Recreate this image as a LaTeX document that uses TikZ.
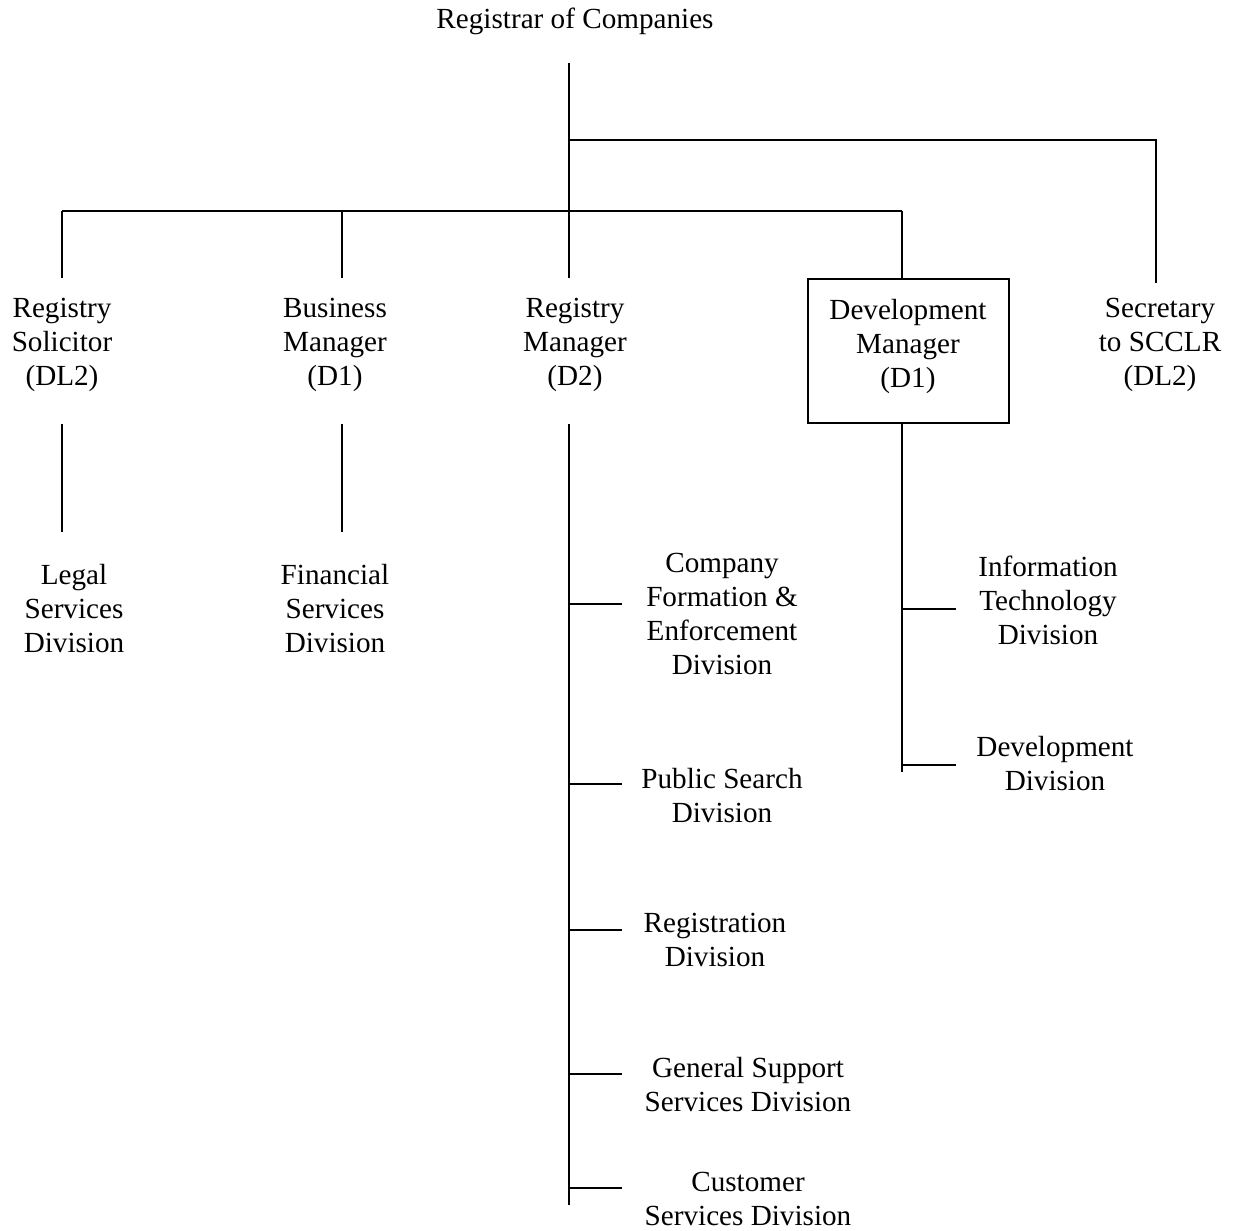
\documentclass[tikz,border=0pt]{standalone}
\usepackage{fontspec}
\setmainfont{Liberation Serif}
\begin{document}
\begin{tikzpicture}[x=0.6pt,y=-0.6pt,
  txt/.style={align=center,inner sep=0pt,font=\fontsize{17.5pt}{20.4pt}\selectfont},
  ln/.style={line width=0.9pt,black},
  boxed/.style={draw,line width=0.9pt,minimum width=120.6pt,minimum height=86.4pt,inner sep=0pt}]
\useasboundingbox (0,0) rectangle (1234,1230);
% nodes
\node[txt] (reg) at (575,21) {Registrar of Companies};
\node[txt] (rs) at (62,345) {Registry\\Solicitor\\(DL2)};
\node[txt] (bm) at (335,345) {Business\\Manager\\(D1)};
\node[txt] (rm) at (575,345) {Registry\\Manager\\(D2)};
\node[boxed] (dmbox) at (908.5,351) {};
\node[txt] (dm) at (908,346) {Development\\Manager\\(D1)};
\node[txt] (sec) at (1160,345) {Secretary\\to SCCLR\\(DL2)};
\node[txt] (legal) at (74,609) {Legal\\Services\\Division};
\node[txt] (fin) at (335,609) {Financial\\Services\\Division};
\node[txt] (cfe) at (722,614) {Company\\Formation \&\\Enforcement\\Division};
\node[txt] (ps) at (722,796) {Public Search\\Division};
\node[txt] (regd) at (715,940) {Registration\\Division};
\node[txt] (gss) at (748,1085) {General Support\\Services Division};
\node[txt] (cs) at (748,1199) {Customer\\Services Division};
\node[txt] (it) at (1048,600) {Information\\Technology\\Division};
\node[txt] (dd) at (1055,764) {Development\\Division};
% coordinates
\coordinate (top) at (569,63);
\coordinate (j1) at (569,140);
\coordinate (j2) at (569,211);
\coordinate (rmT) at (569,278);
\coordinate (secC) at (1156,140);
\coordinate (secT) at (1156,283);
\coordinate (hl) at (62,211);
\coordinate (hr) at (902,211);
\coordinate (rsT) at (62,278);
\coordinate (bmJ) at (342,211);
\coordinate (bmT) at (342,278);
\coordinate (dmT) at (902,279);
\coordinate (rsB) at (62,424);
\coordinate (legT) at (62,532);
\coordinate (bmB) at (342,424);
\coordinate (finT) at (342,532);
\coordinate (rmB) at (569,424);
\coordinate (rmE) at (569,1205);
\coordinate (dmB) at (902,423);
\coordinate (dmE) at (902,772);
\coordinate (s1) at (569,604);  \coordinate (e1) at (622,604);
\coordinate (s2) at (569,784);  \coordinate (e2) at (622,784);
\coordinate (s3) at (569,930);  \coordinate (e3) at (622,930);
\coordinate (s4) at (569,1074); \coordinate (e4) at (622,1074);
\coordinate (s5) at (569,1188); \coordinate (e5) at (622,1188);
\coordinate (t1) at (902,609);  \coordinate (f1) at (956,609);
\coordinate (t2) at (902,765);  \coordinate (f2) at (956,765);
% connectors
\draw[ln] (top) -- (rmT);
\draw[ln] (j1) -- (secC) -- (secT);
\draw[ln] (hl) -- (hr);
\draw[ln] (hl) -- (rsT);
\draw[ln] (bmJ) -- (bmT);
\draw[ln] (hr) -- (dmT);
\draw[ln] (rsB) -- (legT);
\draw[ln] (bmB) -- (finT);
\draw[ln] (rmB) -- (rmE);
\draw[ln] (dmB) -- (dmE);
\draw[ln] (s1) -- (e1);
\draw[ln] (s2) -- (e2);
\draw[ln] (s3) -- (e3);
\draw[ln] (s4) -- (e4);
\draw[ln] (s5) -- (e5);
\draw[ln] (t1) -- (f1);
\draw[ln] (t2) -- (f2);
\end{tikzpicture}
\end{document}
